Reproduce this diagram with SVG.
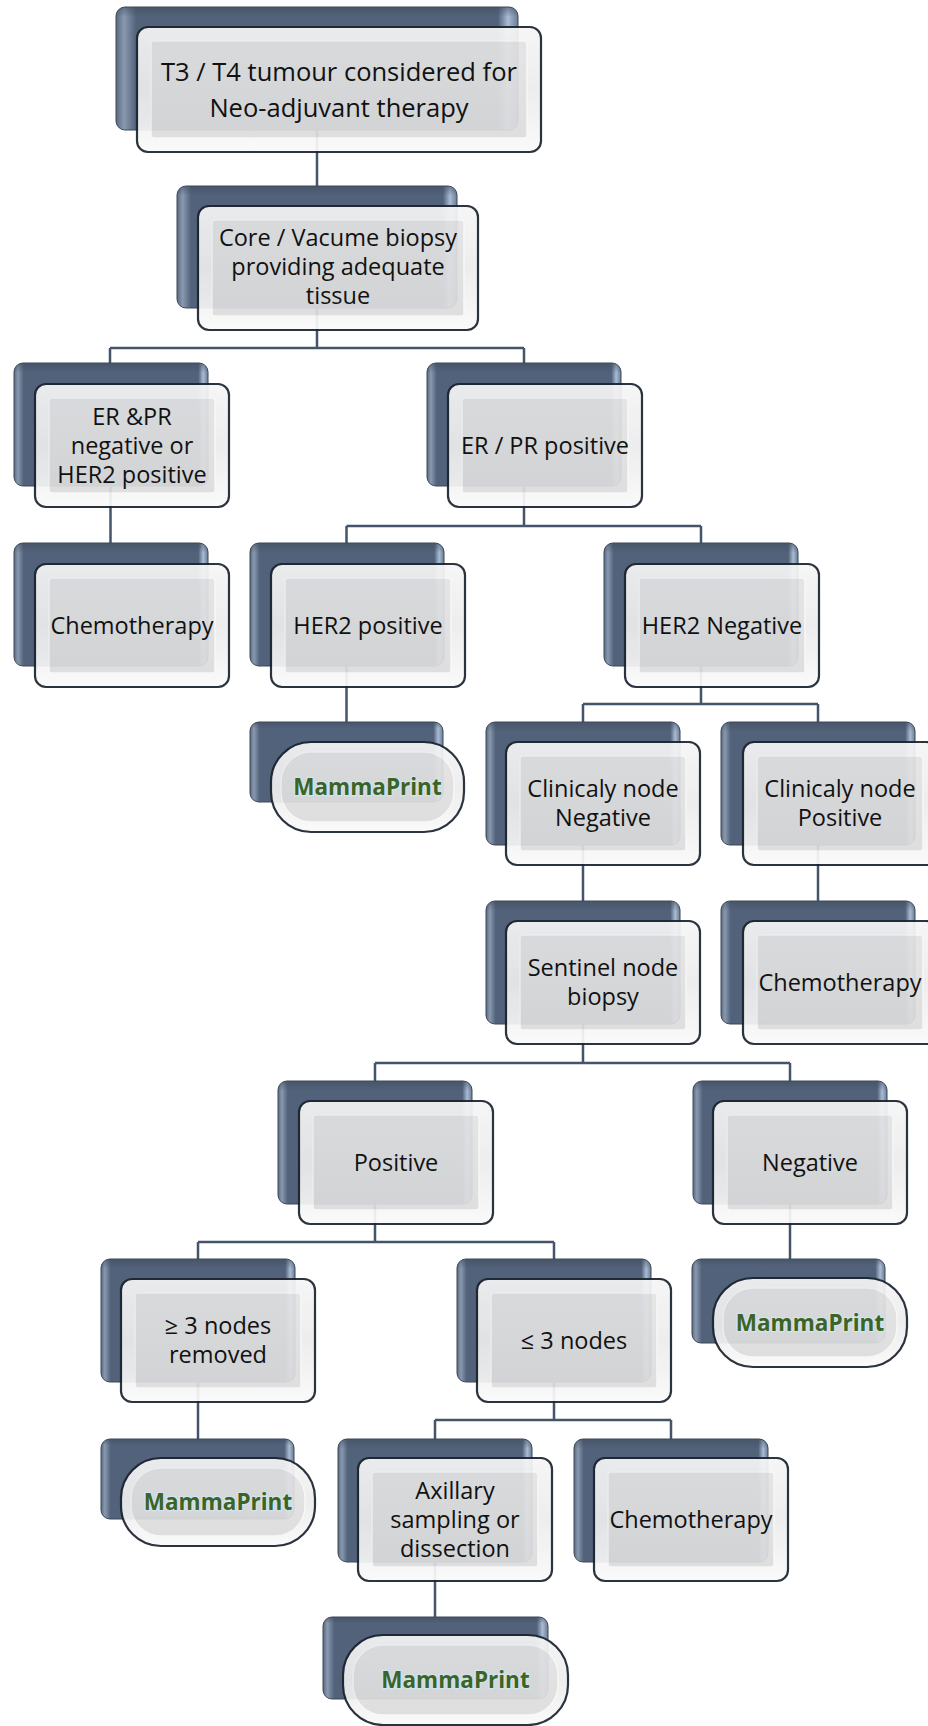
<svg xmlns="http://www.w3.org/2000/svg" width="928" height="1726" viewBox="0 0 928 1726">
<defs>
<linearGradient id="bkG" x1="0" y1="0" x2="1" y2="0">
<stop offset="0" stop-color="#5a6a80"/><stop offset="0.02" stop-color="#8899b0"/><stop offset="0.05" stop-color="#52627a"/><stop offset="0.95" stop-color="#52627a"/><stop offset="0.975" stop-color="#a8bcd4"/><stop offset="1" stop-color="#6b7c93"/>
</linearGradient>
<linearGradient id="bkV" x1="0" y1="0" x2="0" y2="1">
<stop offset="0" stop-color="#3e4b5d" stop-opacity="0.55"/><stop offset="0.08" stop-color="#3e4b5d" stop-opacity="0"/><stop offset="1" stop-color="#3e4b5d" stop-opacity="0"/>
</linearGradient>
<linearGradient id="frG" x1="0" y1="0" x2="0" y2="1">
<stop offset="0" stop-color="#f6f6f6"/><stop offset="0.5" stop-color="#ececec"/><stop offset="1" stop-color="#fafafa"/>
</linearGradient>
<linearGradient id="fiG" x1="0" y1="0" x2="0" y2="1">
<stop offset="0" stop-color="#e3e3e4"/><stop offset="1" stop-color="#dcdcdd"/>
</linearGradient>
</defs>
<style>
.bk{fill:url(#bkG);stroke:#3c4858;stroke-width:1}
.bkv{fill:url(#bkV)}
.front{opacity:0.93}
.fr{fill:url(#frG);stroke:#1c2430;stroke-width:2.2}
.fi{fill:url(#fiG);stroke:#f7f7f7;stroke-width:1.5}
.t{font-family:"Open Sans","Liberation Sans",sans-serif;font-size:23.5px;fill:#111;text-anchor:middle}
.tl{font-size:25.5px}
.mp{font-family:"Open Sans","Liberation Sans",sans-serif;font-size:22.5px;font-weight:bold;fill:#3b6426;text-anchor:middle;stroke:#d3e6f2;stroke-width:2.5;stroke-opacity:0.8;paint-order:stroke}
.c{fill:none;stroke:#44546a;stroke-width:2.5}
</style>
<rect width="928" height="1726" fill="#ffffff"/>
<g id="connectors">
<path class="c" d="M317 130V186"/>
<path class="c" d="M317 308V348M110 348H524M110 348V363M524 348V363"/>
<path class="c" d="M110.5 486V543"/>
<path class="c" d="M524 486V526M346.5 526H701M346.5 526V543M701 526V543"/>
<path class="c" d="M346.5 666V722"/>
<path class="c" d="M701 666V704M583 704H818M583 704V722M818 704V722"/>
<path class="c" d="M583 845V901"/>
<path class="c" d="M818 845V901"/>
<path class="c" d="M583 1024V1063M375 1063H790M375 1063V1081M790 1063V1081"/>
<path class="c" d="M375 1204V1242M198 1242H554M198 1242V1259M554 1242V1259"/>
<path class="c" d="M790 1204V1259"/>
<path class="c" d="M198 1382V1439"/>
<path class="c" d="M554 1382V1420M435 1420H671M435 1420V1439M671 1420V1439"/>
<path class="c" d="M435 1562V1617"/>
</g>
<g id="n1">
<rect class="bk" x="116" y="7" width="402" height="123" rx="9"/><rect class="bkv" x="116" y="7" width="402" height="123" rx="9"/>
<g class="front"><rect class="fr" x="137" y="27" width="404" height="125" rx="11"/><rect class="fi" x="151" y="41" width="376" height="97" rx="3"/></g>
<text class="t tl" x="339" y="81">T3 / T4 tumour considered for</text>
<text class="t tl" x="339" y="116.5">Neo-adjuvant therapy</text>
</g>
<g id="n2">
<rect class="bk" x="177" y="186" width="280" height="122" rx="9"/><rect class="bkv" x="177" y="186" width="280" height="122" rx="9"/>
<g class="front"><rect class="fr" x="198" y="206" width="280" height="124" rx="11"/><rect class="fi" x="212" y="220" width="252" height="96" rx="3"/></g>
<text class="t" x="338" y="246">Core / Vacume biopsy</text>
<text class="t" x="338" y="275">providing adequate</text>
<text class="t" x="338" y="304">tissue</text>
</g>
<g id="n3">
<rect class="bk" x="14" y="363" width="194" height="123" rx="9"/><rect class="bkv" x="14" y="363" width="194" height="123" rx="9"/>
<g class="front"><rect class="fr" x="35" y="384" width="194" height="123" rx="11"/><rect class="fi" x="49" y="398" width="166" height="95" rx="3"/></g>
<text class="t" x="132" y="424.5">ER &amp;PR</text>
<text class="t" x="132" y="453.5">negative or</text>
<text class="t" x="132" y="482.5">HER2 positive</text>
</g>
<g id="n4">
<rect class="bk" x="427" y="363" width="194" height="123" rx="9"/><rect class="bkv" x="427" y="363" width="194" height="123" rx="9"/>
<g class="front"><rect class="fr" x="448" y="384" width="194" height="123" rx="11"/><rect class="fi" x="462" y="398" width="166" height="95" rx="3"/></g>
<text class="t" x="545" y="453.5">ER / PR positive</text>
</g>
<g id="n5">
<rect class="bk" x="14" y="543" width="194" height="123" rx="9"/><rect class="bkv" x="14" y="543" width="194" height="123" rx="9"/>
<g class="front"><rect class="fr" x="35" y="564" width="194" height="123" rx="11"/><rect class="fi" x="49" y="578" width="166" height="95" rx="3"/></g>
<text class="t" x="132" y="633.5">Chemotherapy</text>
</g>
<g id="n6">
<rect class="bk" x="250" y="543" width="194" height="123" rx="9"/><rect class="bkv" x="250" y="543" width="194" height="123" rx="9"/>
<g class="front"><rect class="fr" x="271" y="564" width="194" height="123" rx="11"/><rect class="fi" x="285" y="578" width="166" height="95" rx="3"/></g>
<text class="t" x="368" y="633.5">HER2 positive</text>
</g>
<g id="n7">
<rect class="bk" x="604" y="543" width="194" height="123" rx="9"/><rect class="bkv" x="604" y="543" width="194" height="123" rx="9"/>
<g class="front"><rect class="fr" x="625" y="564" width="194" height="123" rx="11"/><rect class="fi" x="639" y="578" width="166" height="95" rx="3"/></g>
<text class="t" x="722" y="633.5">HER2 Negative</text>
</g>
<g id="m1">
<rect class="bk" x="250" y="722" width="193" height="80" rx="9"/><rect class="bkv" x="250" y="722" width="193" height="80" rx="9"/>
<g class="front"><rect class="fr" x="271" y="742" width="193" height="90" rx="40"/><rect class="fi" x="281" y="752" width="173" height="70" rx="30"/></g>
<text class="mp" x="367.5" y="795">MammaPrint</text>
</g>
<g id="n8">
<rect class="bk" x="486" y="722" width="194" height="123" rx="9"/><rect class="bkv" x="486" y="722" width="194" height="123" rx="9"/>
<g class="front"><rect class="fr" x="506" y="742" width="194" height="123" rx="11"/><rect class="fi" x="520" y="756" width="166" height="95" rx="3"/></g>
<text class="t" x="603" y="797">Clinicaly node</text>
<text class="t" x="603" y="826">Negative</text>
</g>
<g id="n9">
<rect class="bk" x="721" y="722" width="194" height="123" rx="9"/><rect class="bkv" x="721" y="722" width="194" height="123" rx="9"/>
<g class="front"><rect class="fr" x="743" y="742" width="194" height="123" rx="11"/><rect class="fi" x="757" y="756" width="166" height="95" rx="3"/></g>
<text class="t" x="840" y="797">Clinicaly node</text>
<text class="t" x="840" y="826">Positive</text>
</g>
<g id="n10">
<rect class="bk" x="486" y="901" width="194" height="123" rx="9"/><rect class="bkv" x="486" y="901" width="194" height="123" rx="9"/>
<g class="front"><rect class="fr" x="506" y="921" width="194" height="123" rx="11"/><rect class="fi" x="520" y="935" width="166" height="95" rx="3"/></g>
<text class="t" x="603" y="976">Sentinel node</text>
<text class="t" x="603" y="1005">biopsy</text>
</g>
<g id="n11">
<rect class="bk" x="721" y="901" width="194" height="123" rx="9"/><rect class="bkv" x="721" y="901" width="194" height="123" rx="9"/>
<g class="front"><rect class="fr" x="743" y="921" width="194" height="123" rx="11"/><rect class="fi" x="757" y="935" width="166" height="95" rx="3"/></g>
<text class="t" x="840" y="990.5">Chemotherapy</text>
</g>
<g id="n12">
<rect class="bk" x="278" y="1081" width="194" height="123" rx="9"/><rect class="bkv" x="278" y="1081" width="194" height="123" rx="9"/>
<g class="front"><rect class="fr" x="299" y="1101" width="194" height="123" rx="11"/><rect class="fi" x="313" y="1115" width="166" height="95" rx="3"/></g>
<text class="t" x="396" y="1170.5">Positive</text>
</g>
<g id="n13">
<rect class="bk" x="693" y="1081" width="194" height="123" rx="9"/><rect class="bkv" x="693" y="1081" width="194" height="123" rx="9"/>
<g class="front"><rect class="fr" x="713" y="1101" width="194" height="123" rx="11"/><rect class="fi" x="727" y="1115" width="166" height="95" rx="3"/></g>
<text class="t" x="810" y="1170.5">Negative</text>
</g>
<g id="n14">
<rect class="bk" x="101" y="1259" width="194" height="123" rx="9"/><rect class="bkv" x="101" y="1259" width="194" height="123" rx="9"/>
<g class="front"><rect class="fr" x="121" y="1279" width="194" height="123" rx="11"/><rect class="fi" x="135" y="1293" width="166" height="95" rx="3"/></g>
<text class="t" x="218" y="1334">≥ 3 nodes</text>
<text class="t" x="218" y="1363">removed</text>
</g>
<g id="n15">
<rect class="bk" x="457" y="1259" width="194" height="123" rx="9"/><rect class="bkv" x="457" y="1259" width="194" height="123" rx="9"/>
<g class="front"><rect class="fr" x="477" y="1279" width="194" height="123" rx="11"/><rect class="fi" x="491" y="1293" width="166" height="95" rx="3"/></g>
<text class="t" x="574" y="1348.5">≤ 3 nodes</text>
</g>
<g id="m2">
<rect class="bk" x="692" y="1259" width="193" height="84" rx="9"/><rect class="bkv" x="692" y="1259" width="193" height="84" rx="9"/>
<g class="front"><rect class="fr" x="713" y="1278" width="194" height="89" rx="40"/><rect class="fi" x="723" y="1288" width="174" height="69" rx="30"/></g>
<text class="mp" x="810" y="1330.5">MammaPrint</text>
</g>
<g id="m3">
<rect class="bk" x="101" y="1439" width="193" height="80" rx="9"/><rect class="bkv" x="101" y="1439" width="193" height="80" rx="9"/>
<g class="front"><rect class="fr" x="121" y="1458" width="194" height="88" rx="40"/><rect class="fi" x="131" y="1468" width="174" height="68" rx="30"/></g>
<text class="mp" x="218" y="1510">MammaPrint</text>
</g>
<g id="n16">
<rect class="bk" x="338" y="1439" width="194" height="123" rx="9"/><rect class="bkv" x="338" y="1439" width="194" height="123" rx="9"/>
<g class="front"><rect class="fr" x="358" y="1458" width="194" height="123" rx="11"/><rect class="fi" x="372" y="1472" width="166" height="95" rx="3"/></g>
<text class="t" x="455" y="1498.5">Axillary</text>
<text class="t" x="455" y="1527.5">sampling or</text>
<text class="t" x="455" y="1556.5">dissection</text>
</g>
<g id="n17">
<rect class="bk" x="574" y="1439" width="194" height="123" rx="9"/><rect class="bkv" x="574" y="1439" width="194" height="123" rx="9"/>
<g class="front"><rect class="fr" x="594" y="1458" width="194" height="123" rx="11"/><rect class="fi" x="608" y="1472" width="166" height="95" rx="3"/></g>
<text class="t" x="691" y="1527.5">Chemotherapy</text>
</g>
<g id="m4">
<rect class="bk" x="323" y="1617" width="225" height="82" rx="9"/><rect class="bkv" x="323" y="1617" width="225" height="82" rx="9"/>
<g class="front"><rect class="fr" x="343" y="1635" width="225" height="90" rx="40"/><rect class="fi" x="353" y="1645" width="205" height="70" rx="30"/></g>
<text class="mp" x="455.5" y="1688">MammaPrint</text>
</g>
</svg>
